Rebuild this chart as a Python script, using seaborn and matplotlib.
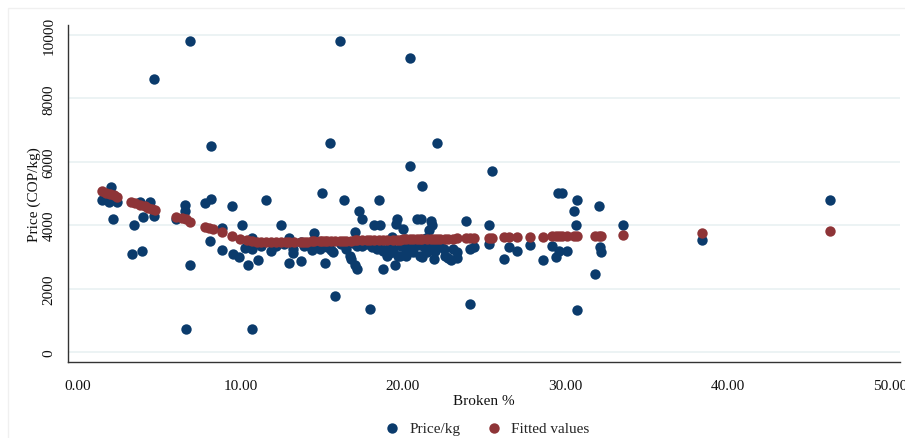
import numpy as np
import pandas as pd
import matplotlib
matplotlib.use('Agg')
import matplotlib.pyplot as plt
import seaborn as sns
from matplotlib.patches import Rectangle

# Observed price per kg vs broken %
broken = [1.48, 1.93, 2.05, 2.14, 2.38, 3.33, 3.42, 3.80, 3.96, 3.97, 4.45, 4.66, 4.70,
          6.01, 6.57, 6.60, 6.67, 6.90, 6.90, 7.84, 8.10, 8.20, 8.20, 8.89, 8.89, 9.48,
          9.52, 9.91, 10.10, 10.30, 10.47, 10.70, 10.70, 10.73, 11.07, 11.25, 11.60, 11.90,
          12.20, 12.50, 12.70, 13.00, 13.00, 13.26, 13.26, 13.70, 13.70, 13.90, 14.10, 14.40,
          14.50, 14.60, 14.90, 15.00, 15.20, 15.30, 15.50, 15.60, 15.70, 15.80, 16.10, 16.20,
          16.35, 16.50, 16.75, 16.80, 16.90, 17.06, 17.06, 17.16, 17.20, 17.30, 17.50, 17.50,
          17.80, 18.00, 18.10, 18.20, 18.30, 18.40, 18.50, 18.60, 18.70, 18.80, 18.80, 19.00,
          19.00, 19.10, 19.20, 19.30, 19.40, 19.40, 19.50, 19.60, 19.66, 19.70, 19.80, 19.90,
          20.00, 20.10, 20.20, 20.20, 20.40, 20.45, 20.45, 20.60, 20.65, 20.85, 20.90, 21.00,
          21.06, 21.10, 21.20, 21.20, 21.30, 21.40, 21.50, 21.60, 21.70, 21.80, 21.80, 21.90,
          22.00, 22.10, 22.30, 22.50, 22.60, 22.80, 22.95, 23.10, 23.30, 23.30, 23.90, 24.10,
          24.10, 24.40, 25.30, 25.30, 25.50, 26.20, 26.50, 27.00, 27.80, 28.60, 29.20, 29.40,
          29.55, 29.80, 29.60, 30.10, 30.55, 30.65, 30.70, 30.70, 31.80, 32.10, 32.15, 32.20,
          33.55, 38.40, 46.30]
price = [4800, 4720, 5190, 4200, 4720, 3100, 4000, 4720, 3200, 4250, 4720, 8600, 4300,
         4200, 4460, 4630, 720, 2740, 9800, 4700, 3510, 4820, 6500, 3900, 3210, 4600,
         3090, 3010, 4020, 3270, 2760, 3610, 3250, 720, 2910, 3330, 4800, 3200,
         3340, 4020, 3400, 3610, 2810, 3130, 3250, 2880, 3470, 3350, 3360, 3220,
         3750, 3430, 3250, 5020, 2820, 3300, 6600, 3220, 3140, 1770, 9800, 3400,
         4800, 3260, 3020, 2940, 3430, 2760, 3780, 3330, 2610, 4450, 4210, 3350,
         3420, 1360, 3300, 4020, 3450, 3250, 4800, 4020, 3250, 2620, 3200, 3040,
         3200, 3090, 3400, 3620, 3140, 3250, 2740, 4040, 4210, 3040, 3040, 3350,
         3870, 3550, 3140, 3040, 3420, 9270, 5880, 3150, 3300, 4210, 3380, 3500,
         3040, 4210, 5230, 2990, 3300, 3600, 3140, 3840, 4140, 4010, 3420, 2920,
         3200, 6600, 3360, 3250, 3020, 2980, 2910, 3250, 3160, 2980, 4140, 1500,
         3250, 3320, 4010, 3420, 5700, 2940, 3310, 3200, 3390, 2900, 3340, 3010,
         5010, 5010, 3200, 3200, 4450, 4000, 4810, 1340, 2450, 4600, 3320, 3170,
         4010, 3530, 4800]

# Fitted values
fit_x = [1.46, 1.70, 1.97, 2.20, 2.38, 3.24, 3.50, 3.82, 4.10, 4.33, 4.55, 4.74, 6.03,
         6.40, 6.63, 6.90, 7.82, 8.05, 8.29, 8.89, 9.46, 9.98, 10.40, 10.70, 11.00, 11.25,
         11.60, 11.90, 12.20, 12.50, 12.80, 13.00, 13.30, 13.70, 13.90, 14.10, 14.40, 14.50,
         14.90, 15.00, 15.20, 15.30, 15.60, 15.80, 16.10, 16.30, 16.50, 16.80, 17.06, 17.20,
         17.50, 17.80, 18.00, 18.20, 18.50, 18.80, 19.00, 19.40, 19.66, 19.80, 20.00, 20.20,
         20.45, 20.65, 20.85, 21.06, 21.20, 21.50, 21.70, 21.90, 22.10, 22.30, 22.60, 22.80,
         23.10, 23.30, 23.90, 24.10, 24.40, 25.30, 25.50, 26.20, 26.50, 27.00, 27.80, 28.60,
         29.20, 29.40, 29.60, 29.80, 30.10, 30.55, 30.70, 31.80, 32.10, 32.20, 33.55, 38.40,
         46.30]
fit_y = [5070, 5030, 4980, 4940, 4900, 4740, 4700, 4640, 4590, 4540, 4510, 4490, 4270,
         4220, 4180, 4110, 3950, 3910, 3880, 3770, 3670, 3580, 3530, 3500, 3480, 3470,
         3460, 3460, 3460, 3465, 3470, 3470, 3475, 3480, 3485, 3485, 3490, 3490,
         3495, 3495, 3500, 3500, 3505, 3505, 3510, 3510, 3515, 3515, 3520, 3520,
         3525, 3525, 3530, 3530, 3535, 3535, 3540, 3540, 3545, 3545, 3550, 3550,
         3555, 3555, 3560, 3560, 3560, 3565, 3565, 3570, 3570, 3575, 3575, 3580,
         3580, 3585, 3590, 3595, 3600, 3610, 3610, 3620, 3625, 3630, 3635, 3640,
         3645, 3645, 3650, 3650, 3655, 3660, 3660, 3670, 3670, 3675, 3690, 3750,
         3810]

x_ticks = [0, 10, 20, 30, 40, 50]
y_ticks = [0, 2000, 4000, 6000, 8000, 10000]

obs = pd.DataFrame({'broken': broken, 'price': price})
fit = pd.DataFrame({'broken': fit_x, 'fitted': fit_y})

sns.set_style("white")
plt.rcParams['font.family'] = ['Liberation Serif', 'DejaVu Serif']

navy = '#0b3b6c'
maroon = '#8e3437'

fig = plt.figure(figsize=(9.05, 4.39), dpi=100)
ax = fig.add_axes([0.0751, 0.1731, 0.9194, 0.7677])

sns.scatterplot(data=obs, x='broken', y='price', color=navy, s=56, linewidth=0,
                label='Price/kg', ax=ax, zorder=3)
sns.scatterplot(data=fit, x='broken', y='fitted', color=maroon, s=56, linewidth=0,
                label='Fitted values', ax=ax, zorder=4)

ax.set_xlim(-0.62, 50.6)
ax.set_ylim(-315, 10315)
ax.set_xticks(x_ticks)
ax.set_xticklabels([f'{t:.2f}' for t in x_ticks])
ax.set_yticks(y_ticks)
ax.set_yticklabels([str(t) for t in y_ticks], rotation=90, va='center')

ax.yaxis.grid(True, color='#eaf2f3', linewidth=1.3, zorder=0)
ax.xaxis.grid(False)
ax.set_axisbelow(True)

for side in ['top', 'right']:
    ax.spines[side].set_visible(False)
for side in ['left', 'bottom']:
    ax.spines[side].set_color('#333333')
    ax.spines[side].set_linewidth(1.0)

ax.tick_params(axis='both', direction='out', length=6, width=1.0, color='#333333',
               labelsize=11, labelcolor='#111111')
ax.tick_params(axis='x', pad=6)
ax.tick_params(axis='y', pad=3)

ax.set_xlabel('Broken %', fontsize=11, labelpad=2, color='#111111')
ax.set_ylabel('Price (COP/kg)', fontsize=11, labelpad=1, color='#111111')

handles, labels = ax.get_legend_handles_labels()
ax.get_legend().remove()
fig.legend(handles, labels, loc='center', bbox_to_anchor=(483 / 905, 1 - 429 / 439),
           ncol=2, frameon=False, fontsize=11, handletextpad=0.1, columnspacing=1.2,
           markerscale=1.0)

# faint outer frame of the graph region
fig.patches.append(Rectangle((8 / 905, -0.01), 1.0, 1 - 9 / 439 + 0.01,
                             transform=fig.transFigure, fill=False,
                             edgecolor='#f0f0f0', linewidth=1.0))

plt.savefig('out.png', dpi=100)
plt.close()
